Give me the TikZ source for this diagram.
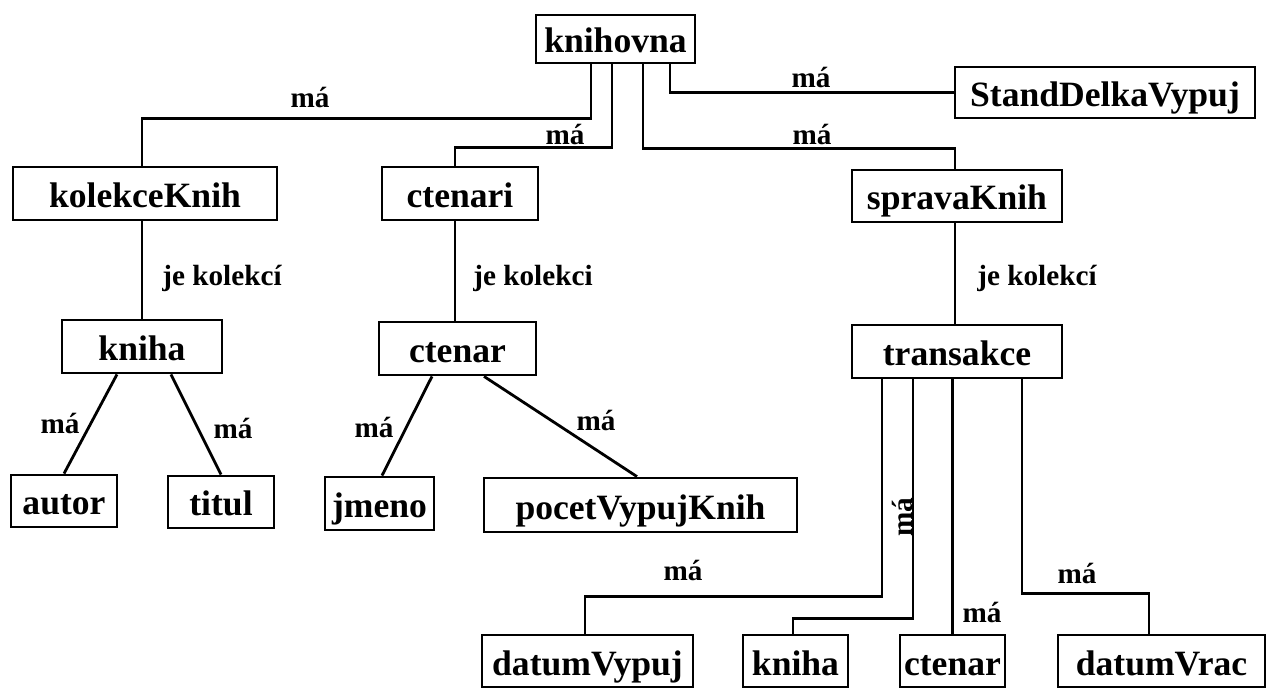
\documentclass[tikz,border=0pt]{standalone}
\usepackage{fontspec}
\setmainfont{Liberation Serif}
\usetikzlibrary{calc}
\begin{document}
\begin{tikzpicture}[x=0.5pt,y=-0.5pt,
  box/.style={draw,line width=1.4pt,inner sep=0pt,text height=14pt,text depth=0pt,font=\fontsize{17.8}{20}\selectfont\bfseries},
  lbl/.style={inner sep=0pt,font=\fontsize{14.6}{16}\selectfont\bfseries},
  conn/.style={line width=1.4pt}]
\useasboundingbox (0,0) rectangle (1269,689);
% boxes
\node[box,minimum width=79.5pt,minimum height=24pt] (kn) at (615.5,39) {knihovna};
\node[box,minimum width=132pt,minimum height=26.5pt] (kk) at (145,193.5) {kolekceKnih};
\node[box,minimum width=78pt,minimum height=26.5pt] (ci) at (460,193.5) {ctenari};
\node[box,minimum width=105pt,minimum height=26pt] (sk) at (957,196) {spravaKnih};
\node[box,minimum width=150pt,minimum height=25.5pt] (sd) at (1105,92.5) {StandDelkaVypuj};
\node[box,minimum width=80pt,minimum height=26.5pt] (kb) at (142,346.5) {kniha};
\node[box,minimum width=78.5pt,minimum height=26.5pt] (ct) at (457.5,348.5) {ctenar};
\node[box,minimum width=105pt,minimum height=26.5pt] (tr) at (957,351.5) {transakce};
\node[box,minimum width=53pt,minimum height=26pt] (au) at (64,501) {autor};
\node[box,minimum width=53pt,minimum height=26pt] (ti) at (221,502) {titul};
\node[box,minimum width=54.5pt,minimum height=26.5pt] (jm) at (379.5,503.5) {jmeno};
\node[box,minimum width=156.5pt,minimum height=27pt] (pv) at (640.5,505) {pocetVypujKnih};
\node[box,minimum width=105.5pt,minimum height=26pt] (dv) at (587.5,661) {datumVypuj};
\node[box,minimum width=52.5pt,minimum height=26pt] (kb2) at (795.5,661) {kniha};
\node[box,minimum width=52.5pt,minimum height=26pt] (ct2) at (952.5,661) {ctenar};
\node[box,minimum width=103.5pt,minimum height=26pt] (dr) at (1161.5,661) {datumVrac};
% connectors from knihovna
\draw[conn] ($(kn.south)+(-24.5,0)$) -- ++(0,54) -| ($(kk.north)+(-3,0)$);
\draw[conn] ($(kn.south)+(-3.5,0)$) -- ++(0,83) -| ($(ci.north)+(-5,0)$);
\draw[conn] ($(kn.south)+(27.5,0)$) -- ++(0,84) -| ($(sk.north)+(-2,0)$);
\draw[conn] ($(kn.south)+(54.5,0)$) |- (sd.west);
% collections
\draw[conn] ($(kk.south)+(-3,0)$) -- ($(kb.north)$);
\draw[conn] ($(ci.south)+(-5,0)$) -- ($(ct.north)+(-2.5,0)$);
\draw[conn] ($(sk.south)+(-2,0)$) -- ($(tr.north)+(-2,0)$);
% kniha, ctenar attributes
\draw[conn] ($(kb.south)+(-25,0)$) -- (au.north);
\draw[conn] ($(kb.south)+(29,0)$) -- (ti.north);
\draw[conn] ($(ct.south)+(-25.5,0)$) -- ($(jm.north)+(2.5,0)$);
\draw[conn] ($(ct.south)+(26.5,0)$) -- ($(pv.north)+(-3.5,0)$);
% transakce attributes
\draw[conn] ($(tr.south)+(-75,0)$) -- ++(0,217) -| ($(dv.north)+(-2.5,0)$);
\draw[conn] ($(tr.south)+(-44,0)$) -- ++(0,239) -| ($(kb2.north)+(-2.5,0)$);
\draw[conn] (ct2.north |- tr.south) -- (ct2.north);
\draw[conn] ($(tr.south)+(65,0)$) -- ++(0,214) -| ($(dr.north)+(-12.5,0)$);
% labels
\node[lbl] (l1) at (310,98) {má};
\node[lbl] (l2) at (565,135) {má};
\node[lbl] (l3) at (811,78) {má};
\node[lbl] (l4) at (812,135) {má};
\node[lbl] (l5) at (222,278) {je kolekcí};
\node[lbl] (l6) at (533,278) {je kolekci};
\node[lbl] (l7) at (1037,278) {je kolekcí};
\node[lbl] (l8) at (60,423) {má};
\node[lbl] (l9) at (233,428) {má};
\node[lbl] (l10) at (374,427) {má};
\node[lbl] (l11) at (596,420) {má};
\node[lbl] (l12) at (683,570) {má};
\node[lbl,rotate=90] (l13) at (902,517) {má};
\node[lbl] (l14) at (982,612) {má};
\node[lbl] (l15) at (1077,573) {má};
\end{tikzpicture}
\end{document}
